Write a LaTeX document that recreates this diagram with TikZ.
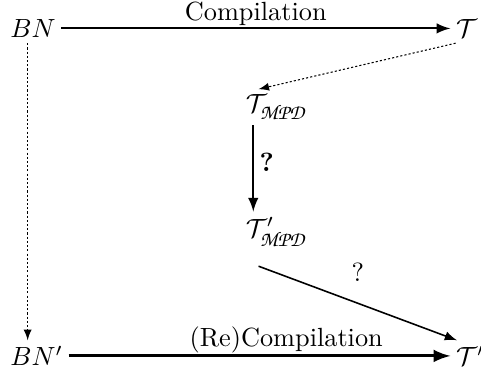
\documentclass[tikz,border=0pt]{standalone}
\usepackage{amsmath,amssymb}
\DeclareMathAlphabet{\mathpzc}{OT1}{pzc}{m}{it}
\newcommand{\mpdsub}{\text{\fontsize{8}{9}\selectfont$\mathpzc{MPD}$}}

\begin{document}
\begin{tikzpicture}[auto, inner sep=2pt,
    term/.style={anchor=base west},
    tag/.style={inner sep=0.5pt},
    strong/.style={->, >=latex, thick},
    weak/.style={->, >=latex, dash pattern=on 0.8pt off 0.8pt}]
    \useasboundingbox (0,0) rectangle (6.43,-4.93);

    \node[term] (BN)  at (0.06,-0.50) {$BN$};
    \node[term] (T)   at (6.02,-0.50) {$\mathcal{T}$};
    \node[term] (TM)  at (3.21,-1.51) {$\mathcal{T}_{\mpdsub}$};
    \node[term] (TMp) at (3.21,-3.17) {$\mathcal{T}'_{\mpdsub}$};
    \node[term] (BNp) at (0.06,-4.89) {$BN'$};
    \node[term] (Tp)  at (6.02,-4.89) {$\mathcal{T}'$};

    \draw[strong] (BN) -- node[tag] {Compilation} (BN -| T.west);
    \draw[weak] ([xshift=2pt]T.south west) -- ([xshift=7pt]TM.north west);
    \draw[strong] ([xshift=5pt]TM.south west) -- node[pos=0.43] {\textbf{?}} ([xshift=5pt]TMp.north west);
    \draw[strong, semithick] ([xshift=7pt, yshift=-5pt]TMp.south west) -- node[above=6pt] {?} ([xshift=2.5pt]Tp.north west);
    \draw[weak] ([xshift=-2pt]BN.south) -- ([xshift=-2pt]BN.south |- BNp.north);
    \draw[strong, very thick] (BNp) -- node[tag, pos=0.57] {(Re)Compilation} (BNp -| Tp.west);
\end{tikzpicture}
\end{document}
